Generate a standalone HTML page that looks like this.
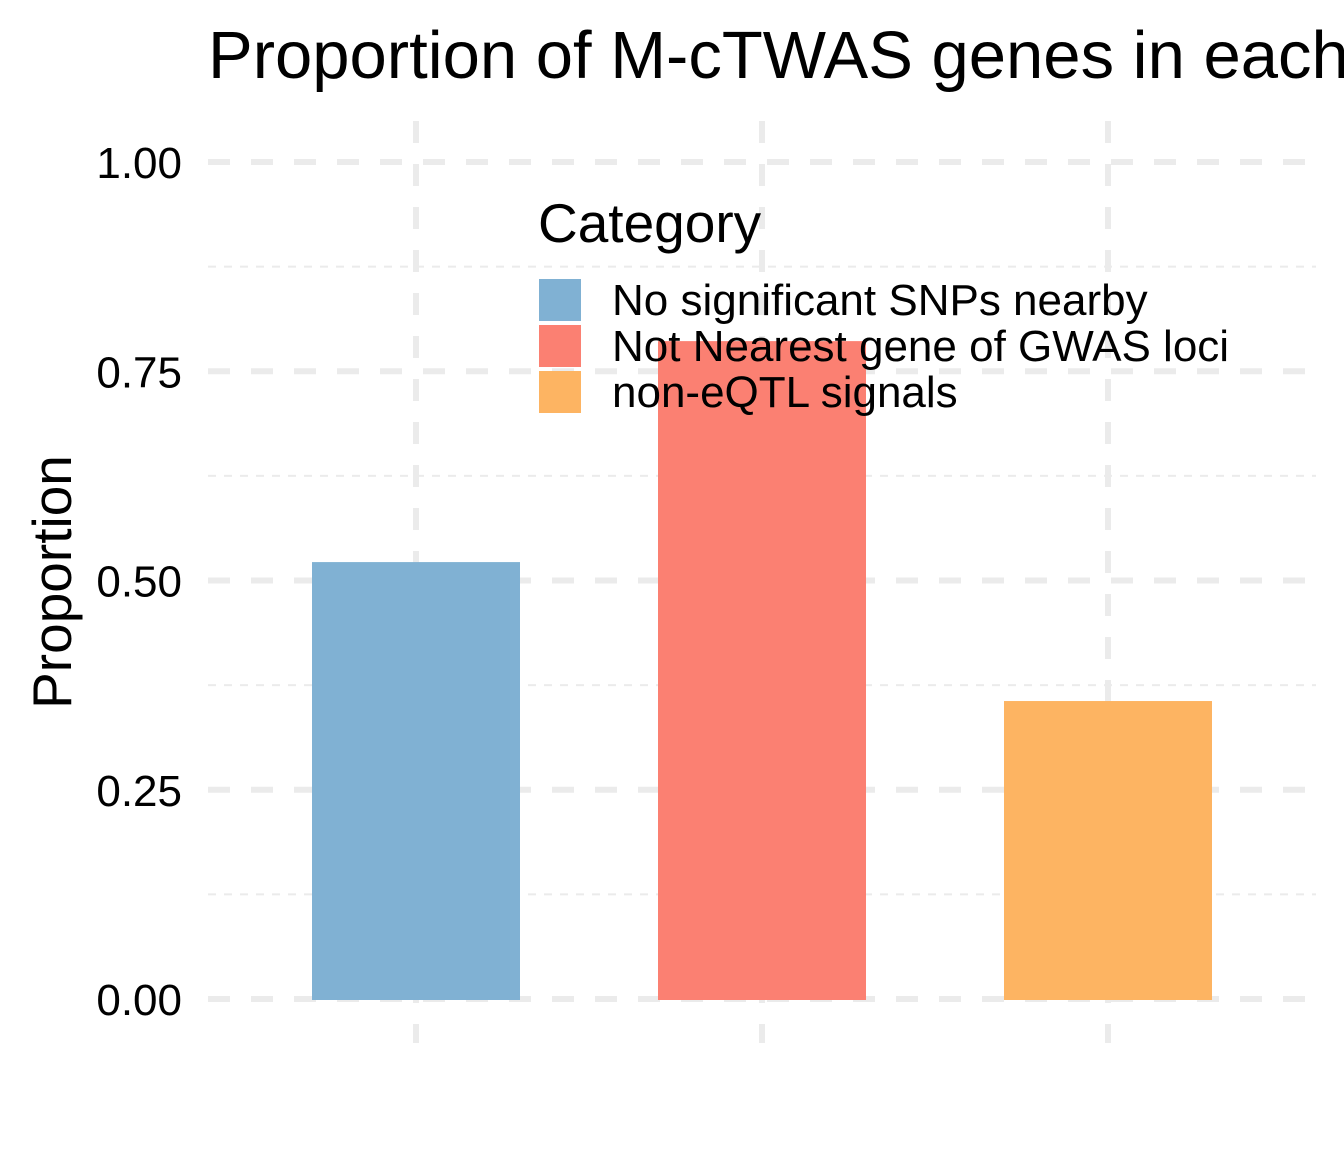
<!DOCTYPE html>
<html><head><meta charset="utf-8"><style>
html,body{margin:0;padding:0;background:#fff;}
svg{display:block;font-family:"Liberation Sans",Arial,sans-serif;}
</style></head><body>
<svg id="chart" width="1344" height="1152" viewBox="0 0 1344 1152">
<text x="208" y="78" font-size="67" fill="#000">Proportion of M-cTWAS genes in each category</text>
<g id="grid"></g>
<g id="bars"></g>
<g id="yticks"></g>
<text transform="translate(71,582) rotate(-90)" text-anchor="middle" font-size="55" fill="#000">Proportion</text>
<g>
<text x="538" y="242" font-size="55" fill="#000">Category</text>
<g id="legend-items"></g>
</g>
</svg>
<script>
const categories = ["No significant SNPs nearby", "Not Nearest gene of GWAS loci", "non-eQTL signals"];
const values = [0.522, 0.786, 0.356];
const colors = ["#80B1D3", "#FB8072", "#FDB462"];
const yTicks = [0, 0.25, 0.5, 0.75, 1.0];
const yTickLabels = ["0.00", "0.25", "0.50", "0.75", "1.00"];
const minorTicks = [0.125, 0.375, 0.625, 0.875];

const NS = "http://www.w3.org/2000/svg";
const y = v => 999 - v * 837;
const x = i => 416 + i * 346;
const bw = 208;
function mk(tag, attrs, parent) {
  const e = document.createElementNS(NS, tag);
  for (const k in attrs) e.setAttribute(k, attrs[k]);
  parent.appendChild(e);
  return e;
}
const grid = document.getElementById("grid");
minorTicks.forEach(t => {
  const l = mk("line", {x1: 208, x2: 1316, y1: y(t), y2: y(t), stroke: "#EBEBEB", "stroke-width": 2, "stroke-dasharray": "8 8"}, grid);
  
  
});
yTicks.forEach(t => {
  const l = mk("line", {x1: 208, x2: 1316, y1: y(t), y2: y(t), stroke: "#EBEBEB", "stroke-width": 6, "stroke-dasharray": "22 21"}, grid);
  
  
});
categories.forEach((c, i) => {
  const l = mk("line", {x1: x(i), x2: x(i), y1: 121, y2: 1043, stroke: "#EBEBEB", "stroke-width": 6, "stroke-dasharray": "22 21"}, grid);
  
  
});
const bars = document.getElementById("bars");
values.forEach((v, i) => {
  const r = mk("rect", {x: x(i) - bw / 2, y: y(v), width: bw, height: y(0) - y(v) + 1, fill: colors[i]}, bars);
  
  
});
const yt = document.getElementById("yticks");
yTicks.forEach((t, i) => {
  const tx = mk("text", {x: 182, y: y(t) + 16, "text-anchor": "end", "font-size": 44, fill: "#000"}, yt);
  tx.textContent = yTickLabels[i];
  
  
});
const li = document.getElementById("legend-items");
categories.forEach((c, i) => {
  const r = mk("rect", {x: 539, y: 279 + i * 46, width: 42, height: 42, fill: colors[i]}, li);
  
  
  const t = mk("text", {x: 612, y: 315 + i * 46, "font-size": 44, fill: "#000"}, li);
  t.textContent = c;
  
  
});
</script>
</body></html>
